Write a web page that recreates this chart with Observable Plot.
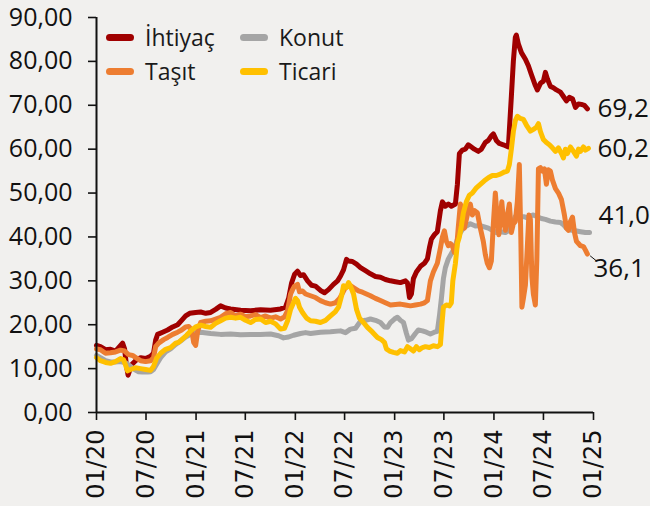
<!DOCTYPE html>
<html><head><meta charset="utf-8">
<script src="https://cdn.jsdelivr.net/npm/d3@7"></script>
<script src="https://cdn.jsdelivr.net/npm/@observablehq/plot@0.6"></script>
<style>
html,body{margin:0;padding:0;background:#f1f0ee;}
#wrap{position:relative;width:650px;height:506px;overflow:hidden;}
#wrap svg{position:absolute;left:0;top:0;}
g[aria-label="y-axis tick label"] text{font-family:"Open Sans",sans-serif;font-size:25px;fill:#111;}
g[aria-label="x-axis tick label"] text{font-family:"DejaVu Sans",sans-serif;font-size:24px;fill:#111;}
.legend{position:absolute;display:flex;align-items:center;font-family:"Open Sans",sans-serif;font-size:23px;color:#1a1a1a;height:30px;}
.legend .sw{width:28px;height:7px;border-radius:4px;margin-right:11px;}
</style></head>
<body><div id="wrap"></div>
<script>
const seriesNames = ["İhtiyaç", "Konut", "Taşıt", "Ticari"];
const seriesColors = ["#a00000", "#a5a5a5", "#ed7d31", "#ffc000"];
const yTickValues = [0,10,20,30,40,50,60,70,80,90];
const xTickLabels = ["01/20","07/20","01/21","07/21","01/22","07/22","01/23","07/23","01/24","07/24","01/25"];

// [decimal year, value %]
const ihtiyac = [[2020.000,15.3],[2020.040,15.0],[2020.091,14.3],[2020.141,14.4],[2020.191,14.0],[2020.231,15.0],[2020.262,15.8],[2020.282,14.5],[2020.302,10.5],[2020.317,8.5],[2020.332,9.5],[2020.357,11.0],[2020.392,11.8],[2020.443,12.5],[2020.493,12.3],[2020.543,12.8],[2020.573,13.5],[2020.594,16.5],[2020.614,17.8],[2020.664,18.3],[2020.714,18.8],[2020.765,19.5],[2020.815,20.0],[2020.855,21.0],[2020.895,22.0],[2020.936,22.6],[2020.996,22.8],[2021.046,22.9],[2021.097,22.6],[2021.147,22.8],[2021.197,23.5],[2021.247,24.3],[2021.298,23.8],[2021.348,23.6],[2021.449,23.3],[2021.549,23.2],[2021.650,23.4],[2021.750,23.3],[2021.851,23.6],[2021.901,24.0],[2021.932,26.0],[2021.962,29.5],[2021.992,31.5],[2022.022,32.2],[2022.052,31.2],[2022.082,31.4],[2022.123,30.0],[2022.163,29.0],[2022.203,28.8],[2022.253,27.8],[2022.294,27.3],[2022.334,28.0],[2022.384,29.2],[2022.425,30.0],[2022.455,31.1],[2022.485,32.5],[2022.515,34.9],[2022.535,34.5],[2022.575,34.4],[2022.616,33.8],[2022.656,33.0],[2022.706,32.3],[2022.756,31.6],[2022.807,31.0],[2022.857,30.8],[2022.907,30.3],[2022.958,30.0],[2023.008,29.8],[2023.058,29.6],[2023.109,30.0],[2023.129,29.5],[2023.149,26.2],[2023.169,27.0],[2023.189,30.5],[2023.219,32.0],[2023.260,33.3],[2023.300,34.0],[2023.330,35.0],[2023.350,37.5],[2023.370,39.5],[2023.400,40.5],[2023.430,41.2],[2023.461,46.0],[2023.481,48.0],[2023.511,47.0],[2023.541,47.5],[2023.571,47.0],[2023.612,47.5],[2023.632,52.0],[2023.652,59.0],[2023.682,59.8],[2023.712,60.0],[2023.742,61.0],[2023.773,60.5],[2023.803,60.0],[2023.843,59.5],[2023.873,60.0],[2023.913,61.5],[2023.944,62.0],[2023.974,63.0],[2023.994,63.5],[2024.024,62.0],[2024.054,61.3],[2024.094,61.0],[2024.145,60.5],[2024.175,72.0],[2024.195,80.0],[2024.215,85.5],[2024.225,86.0],[2024.245,84.0],[2024.276,82.0],[2024.316,80.5],[2024.346,79.0],[2024.376,77.0],[2024.416,74.5],[2024.436,73.5],[2024.467,75.0],[2024.497,75.5],[2024.517,77.5],[2024.537,76.0],[2024.567,74.3],[2024.597,74.0],[2024.628,73.5],[2024.668,73.0],[2024.698,72.0],[2024.728,71.0],[2024.758,71.8],[2024.789,71.5],[2024.819,69.5],[2024.849,70.3],[2024.879,70.2],[2024.909,70.0],[2024.939,69.2]];

const konut = [[2020.000,13.0],[2020.040,12.5],[2020.091,11.8],[2020.141,11.5],[2020.191,11.5],[2020.241,11.6],[2020.292,11.3],[2020.342,10.5],[2020.382,9.8],[2020.423,9.3],[2020.463,9.2],[2020.513,9.2],[2020.543,9.3],[2020.573,9.8],[2020.604,11.0],[2020.644,12.5],[2020.694,13.8],[2020.744,14.5],[2020.795,15.5],[2020.845,16.3],[2020.895,17.2],[2020.946,17.8],[2020.996,18.2],[2021.046,18.3],[2021.147,18.0],[2021.247,17.8],[2021.348,17.9],[2021.449,17.7],[2021.549,17.8],[2021.650,17.8],[2021.750,17.9],[2021.831,17.5],[2021.881,17.0],[2021.932,17.2],[2021.982,17.6],[2022.052,18.0],[2022.103,18.2],[2022.153,18.0],[2022.253,18.3],[2022.354,18.4],[2022.455,18.6],[2022.505,18.2],[2022.555,19.0],[2022.606,19.2],[2022.656,20.8],[2022.706,21.0],[2022.756,21.3],[2022.807,21.0],[2022.857,20.5],[2022.897,19.5],[2022.927,19.4],[2022.958,20.5],[2022.998,21.3],[2023.028,21.7],[2023.058,21.0],[2023.089,20.5],[2023.119,18.0],[2023.139,16.5],[2023.169,16.8],[2023.209,18.0],[2023.239,18.8],[2023.280,18.6],[2023.320,18.3],[2023.360,17.9],[2023.400,18.3],[2023.430,18.5],[2023.451,22.0],[2023.471,26.0],[2023.491,30.5],[2023.511,33.0],[2023.541,35.0],[2023.571,36.2],[2023.601,37.3],[2023.632,39.5],[2023.662,41.0],[2023.692,42.0],[2023.722,42.5],[2023.762,43.0],[2023.813,42.5],[2023.863,42.6],[2023.903,42.3],[2023.944,42.0],[2023.984,41.5],[2024.024,41.0],[2024.064,41.2],[2024.115,41.0],[2024.155,41.5],[2024.185,43.0],[2024.215,44.7],[2024.245,45.1],[2024.276,44.6],[2024.306,44.6],[2024.336,44.3],[2024.366,44.8],[2024.396,45.0],[2024.436,44.6],[2024.477,44.2],[2024.517,44.0],[2024.567,43.6],[2024.618,43.4],[2024.668,43.3],[2024.698,42.8],[2024.728,42.0],[2024.768,41.6],[2024.819,41.4],[2024.869,41.2],[2024.919,41.0],[2024.960,41.0]];

const tasit = [[2020.000,14.5],[2020.040,14.3],[2020.091,13.5],[2020.141,13.6],[2020.191,13.8],[2020.241,14.2],[2020.282,14.0],[2020.322,13.2],[2020.362,13.0],[2020.402,12.4],[2020.443,11.8],[2020.493,11.6],[2020.543,11.8],[2020.573,12.5],[2020.594,15.0],[2020.624,15.8],[2020.674,16.6],[2020.714,17.1],[2020.765,17.8],[2020.815,18.3],[2020.855,18.8],[2020.895,19.5],[2020.926,19.6],[2020.956,18.8],[2020.976,16.0],[2020.996,15.3],[2021.016,18.5],[2021.046,20.5],[2021.097,20.8],[2021.147,20.9],[2021.197,21.3],[2021.247,21.7],[2021.298,22.5],[2021.348,22.8],[2021.398,22.0],[2021.449,22.4],[2021.499,21.8],[2021.549,22.0],[2021.600,22.3],[2021.650,21.6],[2021.700,22.0],[2021.750,21.5],[2021.801,21.8],[2021.851,21.3],[2021.891,21.8],[2021.922,23.2],[2021.952,27.0],[2021.972,28.0],[2021.992,28.8],[2022.022,29.2],[2022.042,27.5],[2022.072,27.7],[2022.103,27.0],[2022.153,26.6],[2022.203,26.2],[2022.253,25.5],[2022.304,25.0],[2022.354,24.7],[2022.404,25.0],[2022.445,26.0],[2022.475,27.2],[2022.505,28.5],[2022.555,28.9],[2022.596,28.3],[2022.636,27.7],[2022.676,27.4],[2022.716,27.0],[2022.756,26.6],[2022.807,26.0],[2022.857,25.5],[2022.907,25.0],[2022.958,24.5],[2023.008,24.6],[2023.058,24.7],[2023.109,24.5],[2023.159,24.3],[2023.209,24.5],[2023.260,24.7],[2023.300,25.0],[2023.330,25.5],[2023.360,30.0],[2023.390,32.0],[2023.430,34.0],[2023.461,37.5],[2023.481,40.0],[2023.501,41.4],[2023.521,39.0],[2023.541,38.0],[2023.561,38.5],[2023.581,38.0],[2023.601,36.5],[2023.622,37.0],[2023.642,42.5],[2023.662,47.5],[2023.682,46.0],[2023.702,42.0],[2023.722,44.0],[2023.742,46.0],[2023.762,47.5],[2023.783,45.0],[2023.803,46.0],[2023.833,45.5],[2023.863,42.0],[2023.893,39.0],[2023.913,36.0],[2023.933,34.0],[2023.954,33.0],[2023.974,34.5],[2023.994,43.0],[2024.014,50.0],[2024.034,44.0],[2024.049,40.5],[2024.064,44.0],[2024.079,48.0],[2024.094,44.0],[2024.115,41.5],[2024.135,45.0],[2024.155,47.5],[2024.175,41.0],[2024.195,43.0],[2024.215,43.5],[2024.235,48.0],[2024.255,56.5],[2024.270,40.0],[2024.281,24.0],[2024.296,26.0],[2024.316,29.0],[2024.336,38.0],[2024.351,45.0],[2024.366,44.0],[2024.381,31.0],[2024.396,27.0],[2024.416,24.5],[2024.431,35.0],[2024.447,55.5],[2024.467,55.8],[2024.487,55.0],[2024.507,55.5],[2024.527,52.0],[2024.547,55.3],[2024.567,55.0],[2024.587,53.0],[2024.618,51.0],[2024.648,50.0],[2024.678,48.5],[2024.708,45.0],[2024.728,42.0],[2024.748,41.5],[2024.768,43.5],[2024.789,44.5],[2024.809,41.0],[2024.829,39.0],[2024.849,38.5],[2024.869,38.0],[2024.899,37.8],[2024.919,37.0],[2024.939,36.1]];

const ticari = [[2020.000,12.5],[2020.040,11.8],[2020.091,11.4],[2020.141,11.2],[2020.191,11.6],[2020.241,12.3],[2020.272,12.0],[2020.292,10.8],[2020.312,9.5],[2020.342,9.8],[2020.392,10.2],[2020.443,10.0],[2020.493,9.8],[2020.543,9.6],[2020.573,10.5],[2020.604,12.4],[2020.644,13.5],[2020.694,14.4],[2020.744,14.8],[2020.795,15.8],[2020.825,16.0],[2020.865,16.8],[2020.905,17.6],[2020.946,18.6],[2020.996,19.5],[2021.046,19.9],[2021.097,19.6],[2021.147,19.4],[2021.197,20.3],[2021.247,20.9],[2021.298,21.5],[2021.348,21.7],[2021.398,21.5],[2021.449,21.7],[2021.499,21.0],[2021.549,20.5],[2021.600,21.2],[2021.650,21.3],[2021.700,20.5],[2021.750,20.8],[2021.801,20.2],[2021.851,19.0],[2021.891,19.2],[2021.922,20.9],[2021.952,23.5],[2021.972,24.5],[2022.002,26.0],[2022.022,25.5],[2022.042,24.0],[2022.072,22.8],[2022.113,21.5],[2022.153,20.9],[2022.203,20.8],[2022.253,20.5],[2022.304,21.0],[2022.354,22.0],[2022.404,23.0],[2022.435,24.0],[2022.465,26.5],[2022.485,28.9],[2022.515,28.5],[2022.535,29.6],[2022.555,28.8],[2022.586,27.0],[2022.616,23.5],[2022.646,21.5],[2022.686,20.5],[2022.726,19.4],[2022.777,18.3],[2022.827,17.1],[2022.867,16.6],[2022.897,16.0],[2022.917,14.5],[2022.948,14.0],[2022.988,13.7],[2023.028,13.5],[2023.058,14.1],[2023.099,13.8],[2023.129,15.0],[2023.159,14.5],[2023.189,14.0],[2023.219,15.0],[2023.249,14.3],[2023.280,14.8],[2023.310,15.0],[2023.350,14.8],[2023.390,15.2],[2023.430,15.0],[2023.461,15.5],[2023.476,20.0],[2023.491,24.0],[2023.521,24.5],[2023.551,24.3],[2023.571,25.0],[2023.586,30.0],[2023.612,34.0],[2023.632,38.5],[2023.652,40.0],[2023.672,42.5],[2023.692,45.5],[2023.722,48.0],[2023.752,49.5],[2023.783,50.0],[2023.823,51.2],[2023.863,52.0],[2023.903,52.8],[2023.944,53.5],[2023.984,54.0],[2024.024,54.0],[2024.064,54.3],[2024.104,54.8],[2024.135,55.0],[2024.155,56.5],[2024.175,60.0],[2024.195,64.0],[2024.215,66.5],[2024.235,67.5],[2024.265,67.0],[2024.296,66.8],[2024.326,65.5],[2024.366,64.1],[2024.396,64.5],[2024.426,65.0],[2024.447,65.8],[2024.467,64.0],[2024.497,62.2],[2024.527,61.5],[2024.557,61.0],[2024.587,60.3],[2024.618,59.5],[2024.648,60.3],[2024.678,59.0],[2024.698,58.0],[2024.718,60.0],[2024.738,59.0],[2024.768,60.5],[2024.799,59.5],[2024.829,58.4],[2024.849,60.0],[2024.869,59.5],[2024.899,60.5],[2024.919,59.8],[2024.949,60.2]];

const seriesData = [ihtiyac, konut, tasit, ticari];
// end-label nudges (px), as placed in the original
const labelDy = [0, -17, 15, 0];
const labelDx = [10, 9, 6, 9];

function toDate(t) {
  const y = Math.floor(t);
  const a = Date.UTC(y, 0, 1), b = Date.UTC(y + 1, 0, 1);
  return new Date(a + (t - y) * (b - a));
}
const rows = [];
seriesData.forEach((arr, i) => arr.forEach(([t, v]) => rows.push({series: seriesNames[i], date: toDate(t), value: v})));
const last = seriesData.map((arr, i) => ({series: seriesNames[i], date: toDate(arr[arr.length-1][0]), value: arr[arr.length-1][1]}));

const xTicks = xTickLabels.map(s => new Date(Date.UTC(2000 + +s.slice(3), +s.slice(0, 2) - 1, 1)));
const tickFmt = new Map(xTicks.map((d, i) => [+d, xTickLabels[i]]));
const comma = (v, n) => v.toFixed(n).replace(".", ",");
const x0 = xTicks[0], x1 = xTicks[xTicks.length - 1];

const lineMarks = seriesNames.map((name, i) =>
  Plot.line(rows.filter(r => r.series === name), {x: "date", y: "value", stroke: seriesColors[i], strokeWidth: 5, strokeLinejoin: "round", strokeLinecap: "round"}));

const labelMarks = last.map((d, i) =>
  Plot.text([d], {x: "date", y: "value", text: d => comma(d.value, 1), dx: labelDx[i], dy: labelDy[i], textAnchor: "start", fontSize: 26, fontFamily: "Open Sans", fill: "#111"}));

const chart = Plot.plot({
  width: 650, height: 506,
  marginLeft: 96, marginRight: 57, marginTop: 17, marginBottom: 94,
  style: {background: "transparent", overflow: "visible", color: "#111"},
  x: {type: "utc", domain: [x0, x1]},
  y: {domain: [0, 90]},
  marks: [
    Plot.axisY({ticks: yTickValues, tickFormat: d => comma(d, 2), tickSize: 8, tickPadding: 16, strokeWidth: 1.6, label: null}),
    Plot.axisX({ticks: xTicks, tickFormat: d => tickFmt.get(+d), tickSize: 8, tickPadding: 9, tickRotate: -90, strokeWidth: 1.6, label: null}),
    ...lineMarks,
    Plot.ruleY([0], {stroke: "#111", strokeWidth: 2}),
    Plot.ruleX([x0], {stroke: "#111", strokeWidth: 2}),
    Plot.link([last[2]], {x1: d => new Date(+d.date + 10*864e5), y1: d => d.value - 0.4, x2: d => new Date(+d.date + 32*864e5), y2: d => d.value - 1.5, stroke: "#111", strokeWidth: 1}),
    ...labelMarks
  ]
});
const wrap = document.getElementById("wrap");
wrap.appendChild(chart);

// legend (two columns, row-major order as in the original)
const legendItems = [
  {name: seriesNames[0], color: seriesColors[0], left: 106, top: 22},
  {name: seriesNames[1], color: seriesColors[1], left: 240, top: 22},
  {name: seriesNames[2], color: seriesColors[2], left: 106, top: 56},
  {name: seriesNames[3], color: seriesColors[3], left: 240, top: 56}
];
legendItems.forEach(it => {
  const d = document.createElement("div");
  d.className = "legend";
  d.style.left = it.left + "px"; d.style.top = it.top + "px";
  d.innerHTML = `<span class="sw" style="background:${it.color}"></span><span>${it.name}</span>`;
  wrap.appendChild(d);
});
</script>
</body></html>
